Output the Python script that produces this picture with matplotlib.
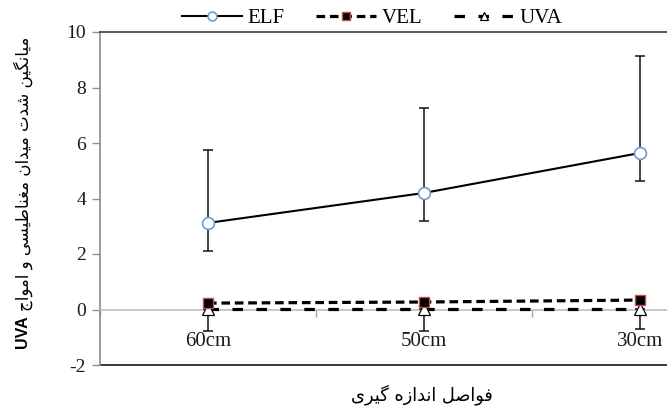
import matplotlib
matplotlib.use("Agg")
import matplotlib.pyplot as plt

plt.rcParams['axes.unicode_minus'] = False

categories = ["60cm", "50cm", "30cm"]
elf = [3.12, 4.20, 5.64]
elf_low = [2.11, 3.19, 4.62]
elf_high = [5.74, 7.27, 9.14]
vel = [0.23, 0.27, 0.34]
uva = [0.02, 0.02, 0.02]
uva_low = [-0.77, -0.76, -0.69]
y_ticks = [-2, 0, 2, 4, 6, 8, 10]
ylabel_fa = "میانگین شدت میدان مغناطیسی و امواج"
ylabel_en = "UVA"
xlabel_fa = "فواصل اندازه گیری"

# --- minimal Arabic/Persian shaping (presentation forms) ---
FORMS = {
    'ا': (0xFE8D, 0xFE8E, None, None),
    'د': (0xFEA9, 0xFEAA, None, None),
    'ر': (0xFEAD, 0xFEAE, None, None),
    'ز': (0xFEAF, 0xFEB0, None, None),
    'و': (0xFEED, 0xFEEE, None, None),
    'ب': (0xFE8F, 0xFE90, 0xFE91, 0xFE92),
    'ت': (0xFE95, 0xFE96, 0xFE97, 0xFE98),
    'ج': (0xFE9D, 0xFE9E, 0xFE9F, 0xFEA0),
    'س': (0xFEB1, 0xFEB2, 0xFEB3, 0xFEB4),
    'ش': (0xFEB5, 0xFEB6, 0xFEB7, 0xFEB8),
    'ص': (0xFEB9, 0xFEBA, 0xFEBB, 0xFEBC),
    'ط': (0xFEC1, 0xFEC2, 0xFEC3, 0xFEC4),
    'غ': (0xFECD, 0xFECE, 0xFECF, 0xFED0),
    'ف': (0xFED1, 0xFED2, 0xFED3, 0xFED4),
    'ل': (0xFEDD, 0xFEDE, 0xFEDF, 0xFEE0),
    'م': (0xFEE1, 0xFEE2, 0xFEE3, 0xFEE4),
    'ن': (0xFEE5, 0xFEE6, 0xFEE7, 0xFEE8),
    'ه': (0xFEE9, 0xFEEA, 0xFEEB, 0xFEEC),
    'ی': (0xFBFC, 0xFBFD, 0xFBFE, 0xFBFF),
    'گ': (0xFB92, 0xFB93, 0xFB94, 0xFB95),
}


def shape(text):
    out = []
    n = len(text)
    for i, ch in enumerate(text):
        if ch not in FORMS:
            out.append(ch)
            continue
        iso, fin, ini, med = FORMS[ch]
        prev = text[i - 1] if i > 0 else ''
        nxt = text[i + 1] if i + 1 < n else ''
        p = prev in FORMS and FORMS[prev][2] is not None
        q = ini is not None and nxt in FORMS
        if p and q:
            out.append(chr(med))
        elif p:
            out.append(chr(fin))
        elif q:
            out.append(chr(ini))
        else:
            out.append(chr(iso))
    return ''.join(out)[::-1]


W, H = 667, 408
fig = plt.figure(figsize=(W / 100, H / 100), dpi=100)
ax = fig.add_axes([100 / W, 1 - 365 / H, 648 / W, 333 / H])

x = list(range(len(categories)))

ax.errorbar(x, elf, yerr=[[e - l for e, l in zip(elf, elf_low)],
                          [h - e for e, h in zip(elf, elf_high)]],
            fmt='none', ecolor='#111111', elinewidth=1.1, capsize=3.6,
            capthick=1.1, zorder=3)
ax.errorbar(x, uva, yerr=[[u - l for u, l in zip(uva, uva_low)],
                          [0, 0, 0]],
            fmt='none', ecolor='#111111', elinewidth=1.1, capsize=3.6,
            capthick=1.1, zorder=3)

l_elf, = ax.plot(x, elf, color='black', lw=1.5, marker='o', ms=8.5,
                 mfc='white', mec='#6f9bd3', mew=1.2, label='ELF', zorder=5)
l_vel, = ax.plot(x, vel, color='black', lw=2.3, ls=(0, (2.7, 1.5)),
                 marker='s', ms=7.8, mfc='black', mec='#c0504d', mew=1.0,
                 label='VEL', zorder=5)
l_uva, = ax.plot(x, uva, color='black', lw=2.3, ls=(0, (3.3, 4.2)),
                 marker='^', ms=8, mfc='white', mec='black', mew=0.9,
                 label='UVA', zorder=4)

ax.set_xlim(-0.5, 2.5)
ax.set_ylim(-2, 10)
ax.set_yticks(y_ticks)
ax.set_yticklabels([str(v) for v in y_ticks])
ax.set_xticks(x)
ax.set_xticklabels(categories)
ax.set_xticks([-0.5, 0.5, 1.5, 2.5], minor=True)

ax.tick_params(axis='both', which='major', labelsize=14,
               labelfontfamily='Liberation Serif', labelcolor='#1a1a1a')
ax.tick_params(axis='x', which='major', length=0, pad=16, labelsize=15)
ax.tick_params(axis='x', which='minor', length=5, color='#a0a0a0', width=1,
               direction='out')
ax.tick_params(axis='y', length=6, color='#909090', width=1, pad=4)

ax.spines['bottom'].set_position(('data', 0))
ax.spines['bottom'].set_color('#bdbdbd')
ax.spines['bottom'].set_linewidth(1.2)
ax.spines['left'].set_color('#8c8c8c')
ax.spines['left'].set_linewidth(1.2)
ax.spines['top'].set_color('#3a3a3a')
ax.spines['top'].set_linewidth(1.2)
ax.spines['right'].set_visible(False)
ax.axhline(-2, color='#3a3a3a', lw=1.4, clip_on=False, zorder=1)

leg = fig.legend(handles=[l_elf, l_vel, l_uva], loc='center',
                 bbox_to_anchor=(372 / W, 1 - 18 / H), ncol=3, frameon=False,
                 handlelength=2.9, handletextpad=0.25, columnspacing=1.5,
                 markerscale=0.75, prop={'family': 'Liberation Serif', 'size': 15})

fig.text(22 / W, 1 - 348 / H, ylabel_en, rotation=90, ha='center', va='bottom',
         fontsize=11.5, fontweight='bold', family='Liberation Sans')
fig.text(23 / W, 1 - 311 / H, shape(ylabel_fa), rotation=90, ha='center',
         va='bottom', fontsize=12.0, family=['DejaVu Sans'])
fig.text(422 / W, 1 - 395 / H, shape(xlabel_fa), ha='center', va='center',
         fontsize=12.8, family=['DejaVu Sans'])

fig.savefig('out.png', dpi=100)
